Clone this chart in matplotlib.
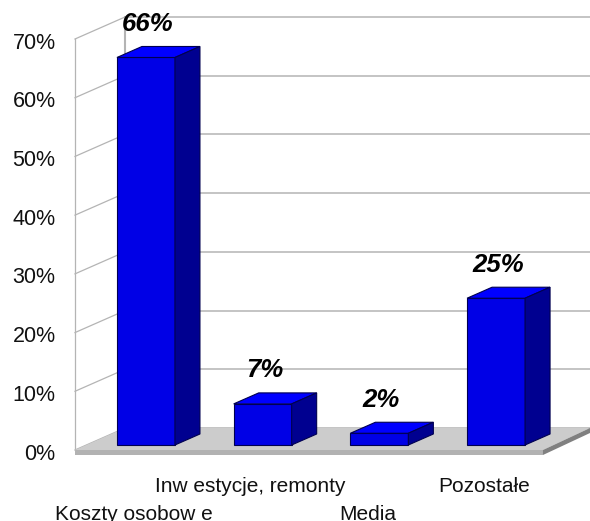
import numpy as np
import matplotlib
matplotlib.use("Agg")
import matplotlib.pyplot as plt
from matplotlib.patches import Polygon
from matplotlib.transforms import ScaledTranslation

categories = ["Koszty osobow e", "Inw estycje, remonty", "Media", "Pozostałe"]
values = [66, 7, 2, 25]
value_labels = ["66%", "7%", "2%", "25%"]
grid_values = [0, 10, 20, 30, 40, 50, 60, 70]
grid_labels = ["0%", "10%", "20%", "30%", "40%", "50%", "60%", "70%"]

plt.rcParams["font.family"] = ["Liberation Sans", "DejaVu Sans"]

fig = plt.figure(figsize=(5.9, 5.21), dpi=100)
ax = fig.add_axes([75 / 590, 71 / 521, 515 / 590, 411 / 521])
x0, x1 = -0.608, 3.805
ax.set_xlim(x0, x1)
ax.set_ylim(0, 70)
ax.patch.set_visible(False)
for s in ax.spines.values():
    s.set_visible(False)

# fake 3d depth, in data units
dx = 50 / 116.7
dy = 22 / 5.871
px = 1 / 5.871  # one pixel in percent
wall = "#b4b4b4"

# side wall and back wall grid
for g in grid_values:
    ax.plot([x0, x0 + dx], [g, g + dy], color=wall, lw=0.9, clip_on=False, zorder=1)
    ax.plot([x0 + dx, x1], [g + dy, g + dy], color=wall, lw=1.1, clip_on=False, zorder=1)
ax.plot([x0, x0], [0, 70], color=wall, lw=0.9, clip_on=False, zorder=1)
ax.plot([x0 + dx, x0 + dx], [dy, 70 + dy], color=wall, lw=1.5, clip_on=False, zorder=1)

# floor
floor_r = (543 - 146) / 116.7
thick = 5 * px
ax.add_patch(Polygon([(x0, 0), (x0 + dx, dy), (x1, dy), (floor_r, 0)], fc="#cccccc", ec="none", zorder=2, clip_on=False))
ax.add_patch(Polygon([(x0, 0), (floor_r, 0), (floor_r, -thick), (x0, -thick)], fc="#b2b2b2", ec="none", zorder=2, clip_on=False))
ax.add_patch(Polygon([(floor_r, 0), (x1, dy), (x1, dy - thick), (floor_r, -thick)], fc="#808080", ec="none", zorder=2, clip_on=False))

# bars
w = 58 / 116.7
base = 5 * px
ddx = dx / 2
ddy = dy / 2
edge = "#000050"
for i, v in enumerate(values):
    l, r = i - w / 2, i + w / 2
    top = base + v
    ax.add_patch(Polygon([(l, base), (r, base), (r, top), (l, top)], fc="#0000e6", ec=edge, lw=0.8, zorder=3, clip_on=False))
    ax.add_patch(Polygon([(l, top), (r, top), (r + ddx, top + ddy), (l + ddx, top + ddy)], fc="#0000ff", ec=edge, lw=0.8, zorder=3, clip_on=False))
    ax.add_patch(Polygon([(r, base), (r + ddx, base + ddy), (r + ddx, top + ddy), (r, top)], fc="#000090", ec=edge, lw=0.8, zorder=3, clip_on=False))
    ax.text(i + 2 / 116.7, top + 33.5 * px, value_labels[i], ha="center", va="center",
            fontsize=18.5, fontweight="bold", fontstyle="italic", color="black", zorder=5, clip_on=False)

ax.set_yticks(grid_values)
ax.set_yticklabels(grid_labels, fontsize=15.5, color="#111111")
ax.tick_params(axis="y", length=0, pad=14)
shift = ScaledTranslation(0, -1.5 / 100, fig.dpi_scale_trans)
for t in ax.get_yticklabels():
    t.set_transform(t.get_transform() + shift)

ax.set_xticks(np.arange(len(categories)) - 12 / 116.7)
ax.set_xticklabels(categories, fontsize=15, color="#111111")
ax.tick_params(axis="x", length=0)
for i, t in enumerate(ax.xaxis.get_major_ticks()):
    t.set_pad(39.5 if i % 2 == 0 else 19.5)

fig.savefig("out.png", dpi=100)
